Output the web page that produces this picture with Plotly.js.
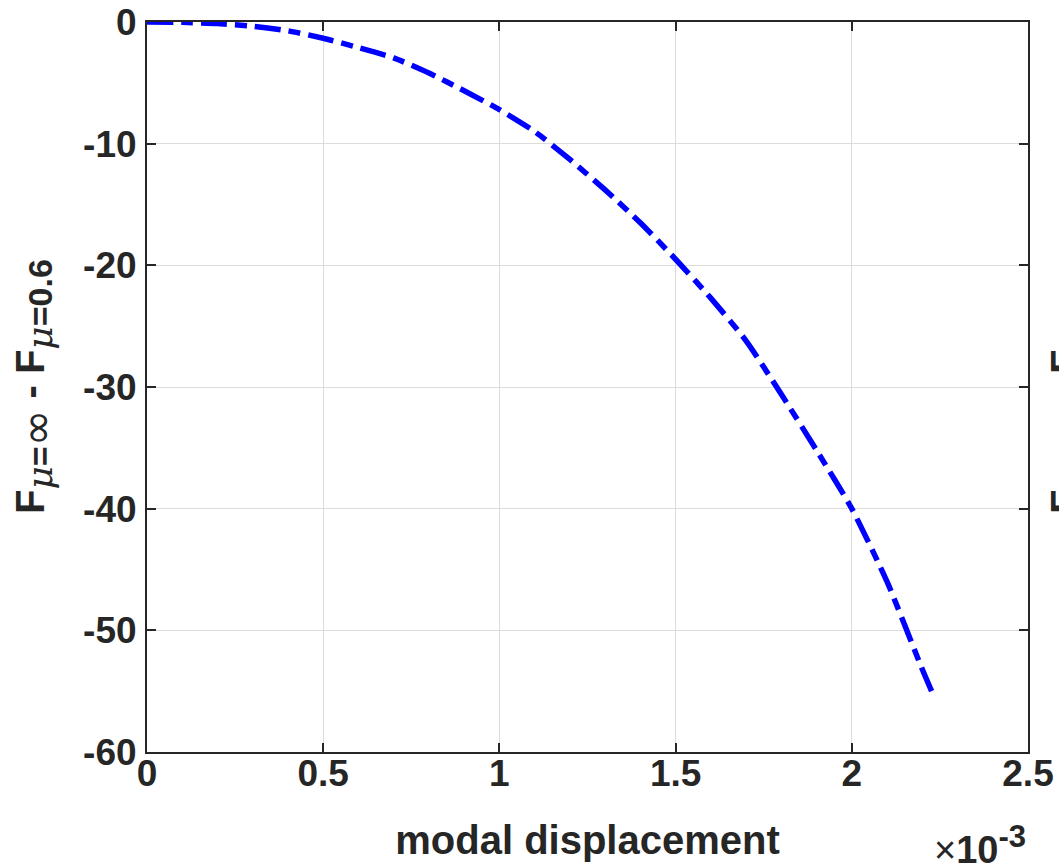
<!DOCTYPE html>
<html>
<head>
<meta charset="utf-8">
<script src="https://cdn.plot.ly/plotly-3.0.1.min.js"></script>
<style>html,body{margin:0;padding:0;background:#fff;}#chart{width:1059px;height:866px;}</style>
</head>
<body>
<div id="chart"></div>
<script>
// modal displacement (x) and F_{mu=inf} - F_{mu=0.6} (y)
const displacement = [0, 0.0001, 0.0002, 0.0003, 0.0004, 0.0005, 0.0006, 0.0007, 0.0008, 0.0009, 0.0010,
  0.0011, 0.0012, 0.0013, 0.0014, 0.0015, 0.0016, 0.0017, 0.0018, 0.0019, 0.0020, 0.0021, 0.0022, 0.002231];
const forceDiff = [0, -0.03, -0.13, -0.35, -0.72, -1.34, -2.1, -2.95, -4.2, -5.65, -7.2,
  -9.0, -11.3, -13.8, -16.5, -19.5, -22.7, -26.2, -30.6, -35.2, -40.0, -46.0, -53.2, -55.3];
const xTickVals = [0, 0.0005, 0.001, 0.0015, 0.002, 0.0025];
const xTickText = ['0', '0.5', '1', '1.5', '2', '2.5'];
const yTickVals = [0, -10, -20, -30, -40, -50, -60];
const yTickText = ['0', '-10', '-20', '-30', '-40', '-50', '-60'];

const mu = '<span style="font-family:DejaVu Serif;font-style:italic;font-weight:normal;font-size:36px">μ</span>';
const inf = '<span style="font-family:DejaVu Sans;font-size:44px">∞</span>';
const yLabel = '<b>F</b><sub><span style="font-size:34px">' + mu + '<b>=</b>' + inf + '</span></sub><b> - F</b>' +
  '<sub><span style="font-size:34px">' + mu + '<b>=0.6</b></span></sub>';
const fontFam = 'Liberation Sans, Arial, sans-serif';
const ink = '#262626';

const trace = {
  x: displacement, y: forceDiff, type: 'scatter', mode: 'lines',
  line: {color: '#0000ff', width: 5.5, dash: '26px,8px,12px,8px', shape: 'spline', smoothing: 0.6},
  hoverinfo: 'skip'
};

const axisCommon = {
  showline: true, mirror: 'ticks', linecolor: ink, linewidth: 2,
  ticks: 'inside', ticklen: 9, tickwidth: 2, tickcolor: ink,
  showgrid: true, gridcolor: '#dcdcdc', gridwidth: 1, zeroline: false,
  tickfont: {family: fontFam, size: 37, color: ink, weight: 'bold'}
};

function yTitle(px) {
  return {text: yLabel, textangle: -90, xref: 'paper', yref: 'paper',
    x: (px - 147) / 881, y: 0.5, xanchor: 'left', yanchor: 'middle', showarrow: false,
    font: {family: fontFam, size: 40, color: ink}};
}

const layout = {
  width: 1059, height: 866,
  margin: {l: 147, r: 31, t: 22, b: 114},
  paper_bgcolor: '#ffffff', plot_bgcolor: '#ffffff',
  showlegend: false,
  xaxis: Object.assign({}, axisCommon, {
    range: [0, 0.0025], tickvals: xTickVals, ticktext: xTickText, ticklabelstandoff: -12,
    title: {text: '<b>modal displacement</b>', font: {family: fontFam, size: 40, color: ink}, standoff: 33}
  }),
  yaxis: Object.assign({}, axisCommon, {
    range: [-60, 0], tickvals: yTickVals, ticktext: yTickText, ticklabelstandoff: 1
  }),
  annotations: [
    {text: '×<b>10</b><sup><span style="font-size:31px"><b>-3</b></span></sup>', xref: 'paper', yref: 'paper',
     x: 1.0, y: 0, yshift: -121, xanchor: 'right', yanchor: 'bottom', showarrow: false,
     font: {family: fontFam, size: 38, color: ink}},
    yTitle(6),
    yTitle(1041)
  ]
};

Plotly.newPlot('chart', [trace], layout, {displayModeBar: false, staticPlot: true});
</script>
</body>
</html>
